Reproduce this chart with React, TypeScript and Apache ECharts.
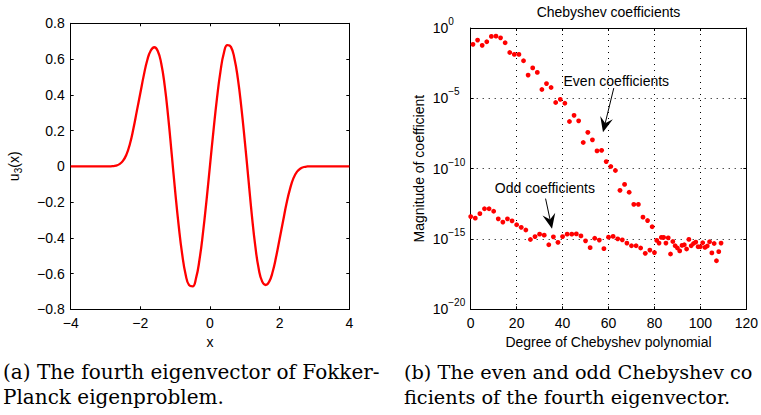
import React, { useEffect, useRef } from "react";
import * as echarts from "echarts";

// ---- Panel (a): fourth eigenvector u3(x) ----
const eigX = [-4, -3, -2.9, -2.8, -2.7, -2.6, -2.5, -2.4, -2.3, -2.2, -2.1, -2.0, -1.9, -1.8, -1.7, -1.6, -1.5, -1.4, -1.3, -1.2, -1.1, -1.0, -0.9, -0.8, -0.7, -0.6, -0.5, -0.4, -0.3, -0.2, -0.1, 0, 0.1, 0.2, 0.3, 0.4, 0.5, 0.6, 0.7, 0.8, 0.9, 1.0, 1.1, 1.2, 1.3, 1.4, 1.5, 1.6, 1.7, 1.8, 1.9, 2.0, 2.1, 2.2, 2.3, 2.4, 2.5, 2.6, 2.7, 2.8, 2.9, 3, 4];
const eigY = [0, 0, 0, 0.001, 0.004, 0.012, 0.03, 0.065, 0.125, 0.21, 0.31, 0.41, 0.51, 0.595, 0.648, 0.666, 0.645, 0.575, 0.45, 0.275, 0.07, -0.14, -0.33, -0.49, -0.605, -0.665, -0.672, -0.625, -0.52, -0.37, -0.19, 0.005, 0.2, 0.38, 0.53, 0.635, 0.678, 0.668, 0.605, 0.49, 0.33, 0.14, -0.065, -0.27, -0.445, -0.575, -0.645, -0.664, -0.645, -0.59, -0.505, -0.405, -0.305, -0.205, -0.125, -0.065, -0.03, -0.012, -0.004, -0.001, 0, 0, 0];

// ---- Panel (b): Chebyshev coefficient magnitudes (log10) ----
const evenDegree = [1, 3, 5, 7, 9, 11, 13, 15, 17, 19, 21, 23, 25, 27, 29, 31, 33, 35, 37, 39, 41, 43, 45, 47, 49, 51, 53, 55, 57, 59, 61, 63, 65, 67, 69, 71, 73, 75, 77, 79, 81, 83, 85, 87, 89, 91, 93, 95, 97, 99, 101, 103, 105, 107, 109];
const evenLog10 = [-1.16, -0.86, -1.23, -0.98, -0.6, -0.58, -0.7, -1.05, -1.74, -1.88, -1.88, -2.33, -3.35, -2.84, -3.16, -4.37, -3.95, -4.23, -5.3, -5.07, -5.35, -6.65, -6.21, -6.6, -8.14, -7.42, -7.95, -8.74, -8.7, -9.5, -9.85, -10.13, -11.54, -11.12, -11.68, -12.54, -12.54, -13.45, -13.69, -14.13, -15.1, -14.89, -15.29, -16.07, -15.48, -15.85, -15.41, -15.03, -15.32, -15.55, -15.27, -15.5, -15.99, -16.55, -15.29];
const oddDegree = [0, 2, 4, 6, 8, 10, 12, 14, 16, 18, 20, 22, 24, 26, 28, 30, 32, 34, 36, 38, 40, 42, 44, 46, 48, 50, 52, 54, 56, 58, 60, 62, 64, 66, 68, 70, 72, 74, 76, 78, 80, 82, 84, 86, 88, 90, 92, 94, 96, 98, 100, 102, 104, 106, 108];
const oddLog10 = [-13.41, -13.52, -13.2, -12.85, -12.85, -13.03, -13.57, -13.8, -13.57, -13.71, -13.99, -14.17, -14.36, -15.04, -14.83, -14.66, -14.73, -15.41, -14.85, -15.24, -14.83, -14.66, -14.66, -14.64, -14.78, -15.13, -15.62, -14.95, -15.08, -15.69, -14.87, -14.82, -14.99, -15.06, -15.29, -15.48, -15.48, -15.64, -16.02, -15.79, -15.97, -15.29, -14.89, -14.92, -15.18, -15.64, -15.46, -15.71, -15.48, -15.22, -15.55, -15.6, -15.2, -15.32, -15.9];

const captionA = ["(a) The fourth eigenvector of Fokker-", "Planck eigenproblem."];
const captionB = ["(b) The even and odd Chebyshev co", "ficients of the fourth eigenvector."];

const SANS = "'Liberation Sans', Arial, Helvetica, sans-serif";
const SERIF = "'DejaVu Serif', serif";
const MINUS = "\u2212";

export default function App() {
  const ref = useRef<HTMLDivElement>(null);
  useEffect(() => {
    if (!ref.current) return;
    const chart = echarts.init(ref.current, undefined, { renderer: "svg" });
    const font = { fontFamily: SANS, fontSize: 14, color: "#000" };
    const axisLine = { show: true, onZero: false, lineStyle: { color: "#000", width: 1 } };
    const tick = { show: true, inside: true, length: 3, lineStyle: { color: "#000", width: 1 } };
    const dotted = { show: true, lineStyle: { color: "#000", width: 1, type: [1, 5] as any } };
    const noLabel = { show: false };

    const option: any = {
      animation: false,
      backgroundColor: "#fff",
      grid: [
        { left: 70.7, top: 23.3, width: 278.6, height: 286, containLabel: false },
        { left: 470.7, top: 23.3, width: 280, height: 286, containLabel: false },
      ],
      xAxis: [
        {
          gridIndex: 0, type: "value", min: -4, max: 4, interval: 2, position: "bottom",
          axisLine, axisTick: tick, splitLine: { show: false },
          axisLabel: { ...font, margin: 7, formatter: (v: number) => String(v).replace("-", MINUS) },
          name: "x", nameLocation: "middle", nameGap: 24, nameTextStyle: font,
        },
        {
          gridIndex: 0, type: "value", min: -4, max: 4, interval: 2, position: "top",
          axisLine, axisTick: tick, splitLine: { show: false }, axisLabel: noLabel,
        },
        {
          gridIndex: 1, type: "value", min: 0, max: 120, interval: 20, position: "bottom",
          axisLine, axisTick: tick, splitLine: dotted,
          axisLabel: { ...font, margin: 7 },
          name: "Degree of Chebyshev polynomial", nameLocation: "middle", nameGap: 24, nameTextStyle: font,
        },
        {
          gridIndex: 1, type: "value", min: 0, max: 120, interval: 20, position: "top",
          axisLine, axisTick: tick, splitLine: { show: false }, axisLabel: noLabel,
          name: "Chebyshev coefficients", nameLocation: "middle", nameGap: 9, nameTextStyle: font,
        },
      ],
      yAxis: [
        {
          gridIndex: 0, type: "value", min: -0.8, max: 0.8, interval: 0.2, position: "left",
          axisLine, axisTick: tick, splitLine: { show: false },
          axisLabel: {
            ...font, margin: 6,
            formatter: (v: number) => (Math.abs(v) < 1e-9 ? "0" : v.toFixed(1).replace("-", MINUS)),
          },
          name: "{a|u}{s|3}{a|(x)}", nameLocation: "middle", nameGap: 47, nameRotate: 90,
          nameTextStyle: {
            ...font,
            rich: {
              a: { fontFamily: SANS, fontSize: 14, color: "#000" },
              s: { fontFamily: SANS, fontSize: 10, color: "#000", padding: [9, 0, 0, 0] },
            },
          },
        },
        {
          gridIndex: 0, type: "value", min: -0.8, max: 0.8, interval: 0.2, position: "right",
          axisLine, axisTick: tick, splitLine: { show: false }, axisLabel: noLabel,
        },
        {
          gridIndex: 1, type: "value", min: -20, max: 0, interval: 5, position: "left",
          axisLine, axisTick: tick, splitLine: dotted,
          axisLabel: {
            ...font, margin: 38, align: "left",
            formatter: (v: number) => `{b|10}{s|${v === 0 ? "0" : MINUS + Math.abs(v)}}`,
            rich: {
              b: { fontFamily: SANS, fontSize: 14, color: "#000" },
              s: { fontFamily: SANS, fontSize: 10, color: "#000", padding: [0, 0, 13, 0] },
            },
          },
          name: "Magnitude of coefficient", nameLocation: "middle", nameGap: 45, nameRotate: 90,
          nameTextStyle: font,
        },
        {
          gridIndex: 1, type: "value", min: -20, max: 0, interval: 5, position: "right",
          axisLine, axisTick: tick, splitLine: { show: false }, axisLabel: noLabel,
        },
      ],
      series: [
        {
          type: "line", xAxisIndex: 0, yAxisIndex: 0, smooth: true, showSymbol: false,
          data: eigX.map((x, i) => [x, eigY[i]]),
          lineStyle: { color: "#ff0000", width: 2.3 },
          itemStyle: { color: "#ff0000" },
        },
        {
          type: "scatter", name: "even", xAxisIndex: 2, yAxisIndex: 2, symbol: "circle", symbolSize: 4.8,
          data: evenDegree.map((d, i) => [d, evenLog10[i]]),
          itemStyle: { color: "#ff0000", opacity: 1 },
        },
        {
          type: "scatter", name: "odd", xAxisIndex: 2, yAxisIndex: 2, symbol: "circle", symbolSize: 4.8,
          data: oddDegree.map((d, i) => [d, oddLog10[i]]),
          itemStyle: { color: "#ff0000", opacity: 1 },
        },
      ],
    };
    chart.setOption(option);

    const px = (p: number[]) => chart.convertToPixel({ xAxisIndex: 2, yAxisIndex: 2 } as any, p) as number[];
    const arrow = (from: number[], to: number[]) => {
      const a = px(from);
      const b = px(to);
      const dx = b[0] - a[0];
      const dy = b[1] - a[1];
      const len = Math.hypot(dx, dy);
      const ux = dx / len, uy = dy / len;
      const nx = -uy, ny = ux;
      const L = 15, W = 6.5;
      const back = [b[0] - L * ux, b[1] - L * uy];
      const notch = [b[0] - 0.62 * L * ux, b[1] - 0.62 * L * uy];
      return [
        { type: "line", shape: { x1: a[0], y1: a[1], x2: notch[0], y2: notch[1] }, style: { stroke: "#000", lineWidth: 1 } },
        {
          type: "polygon",
          shape: { points: [b, [back[0] + W * nx, back[1] + W * ny], notch, [back[0] - W * nx, back[1] - W * ny]] },
          style: { fill: "#000" },
        },
      ];
    };
    const label = (text: string, at: number[]) => {
      const p = px(at);
      return {
        type: "text", x: p[0], y: p[1],
        style: { text, fontFamily: SANS, fontSize: 14, fill: "#000", align: "center", verticalAlign: "middle" },
      };
    };
    const caption = (text: string, x: number, y: number, size: number) => ({
      type: "text", x, y,
      style: { text, fontFamily: SERIF, fontSize: size, fill: "#000", align: "left", verticalAlign: "middle" },
    });

    chart.setOption({
      graphic: [
        label("Even coefficients", [63.4, -3.76]),
        ...arrow([62.3, -4.27], [57.6, -7.41]),
        label("Odd coefficients", [32.3, -11.38]),
        ...arrow([32.6, -12.13], [35.4, -14.27]),
        caption(captionA[0], 3, 372, 20),
        caption(captionA[1], 3, 397, 20),
        caption(captionB[0], 404, 372, 19.3),
        caption(captionB[1], 404, 397, 19.3),
      ],
    });

    return () => chart.dispose();
  }, []);

  return (
    <div
      ref={ref}
      style={{ position: "absolute", left: 0, top: 0, width: 761, height: 415, background: "#fff" }}
    />
  );
}
